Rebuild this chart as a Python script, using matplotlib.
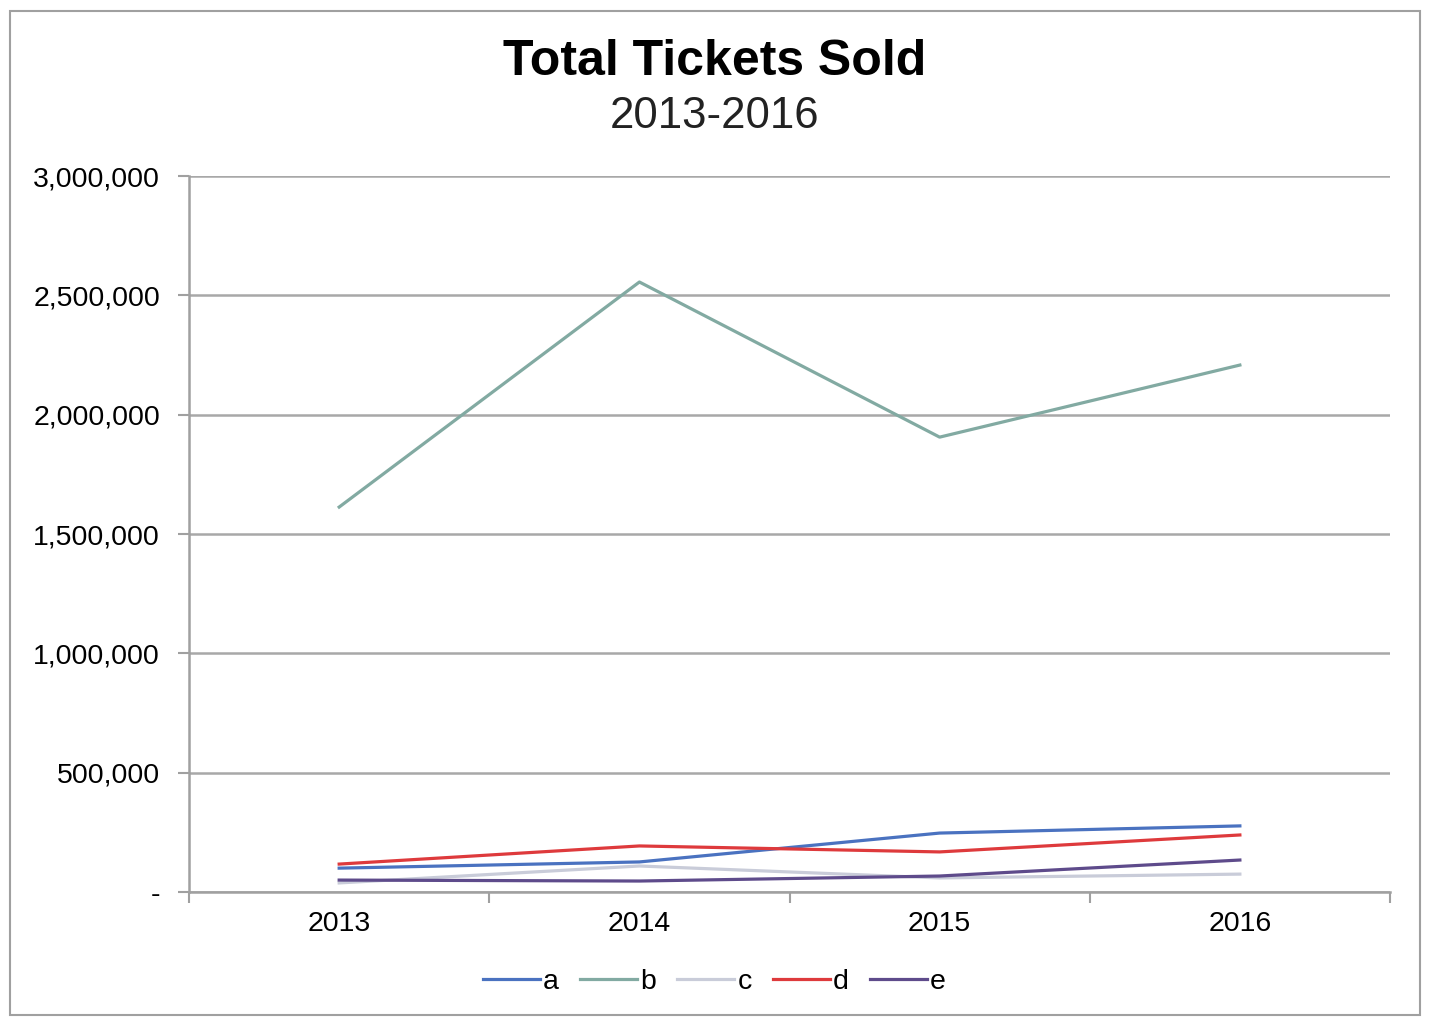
import matplotlib
matplotlib.use("Agg")
import matplotlib.pyplot as plt
from matplotlib.patches import Rectangle
from matplotlib.ticker import FuncFormatter

# values
years = ["2013", "2014", "2015", "2016"]
series_names = ["a", "b", "c", "d", "e"]
a = [100000, 126000, 247000, 277000]
b = [1613000, 2556000, 1906000, 2208000]
c = [38000, 109000, 59000, 75000]
d = [117000, 193000, 168000, 239000]
e = [50000, 46000, 67000, 134000]
colors = ["#4A72C0", "#82AAA2", "#C9CCD9", "#DE3A3C", "#5E4B8B"]

plt.rcParams['font.family'] = ['Liberation Sans', 'DejaVu Sans']

fig = plt.figure(figsize=(14.29, 10.17), dpi=100)
ax = fig.add_axes([0.1323, 0.1229, 0.8404, 0.704])

x = list(range(len(years)))
for name, vals, col in zip(series_names, [a, b, c, d, e], colors):
    ax.plot(x, vals, color=col, lw=2.3, label=name)

ax.set_xlim(-0.5, len(years) - 0.5)
ax.set_ylim(0, 3000000)
ax.set_yticks(range(0, 3000001, 500000))
ax.yaxis.set_major_formatter(FuncFormatter(lambda v, p: "-" if v == 0 else f"{int(v):,}"))
ax.set_xticks(x)
ax.set_xticklabels(years)
ax.set_xticks([i - 0.5 for i in range(len(years) + 1)], minor=True)
ax.tick_params(axis='x', which='major', length=0, labelsize=20.5, pad=14)
ax.tick_params(axis='x', which='minor', length=8, width=1.5, color='#A0A0A0')
ax.tick_params(axis='y', length=8, width=1.5, color='#A0A0A0', labelsize=20.5, pad=13)

ax.grid(axis='y', color='#A8A8A8', lw=1.8)
ax.set_axisbelow(True)
for s in ['top', 'right']:
    ax.spines[s].set_visible(False)
for s in ['left', 'bottom']:
    ax.spines[s].set_color('#A0A0A0')
    ax.spines[s].set_linewidth(1.8)

fig.text(0.5, 0.939, "Total Tickets Sold", ha='center', va='center',
         fontsize=36, fontweight='bold')
fig.text(0.5, 0.885, "2013-2016", ha='center', va='center', fontsize=31.5, color='#222222')

ax.legend(loc='center', bbox_to_anchor=(0.5, 0.034), bbox_transform=fig.transFigure,
          ncol=5, frameon=False, fontsize=20.5, handlelength=2.0, handletextpad=0.1,
          columnspacing=0.75)

fig.patches.append(Rectangle((0.007, 0.002), 0.987, 0.987, transform=fig.transFigure,
                             fill=False, edgecolor='#A0A0A0', lw=1.5))

fig.savefig("out.png", dpi=100)
